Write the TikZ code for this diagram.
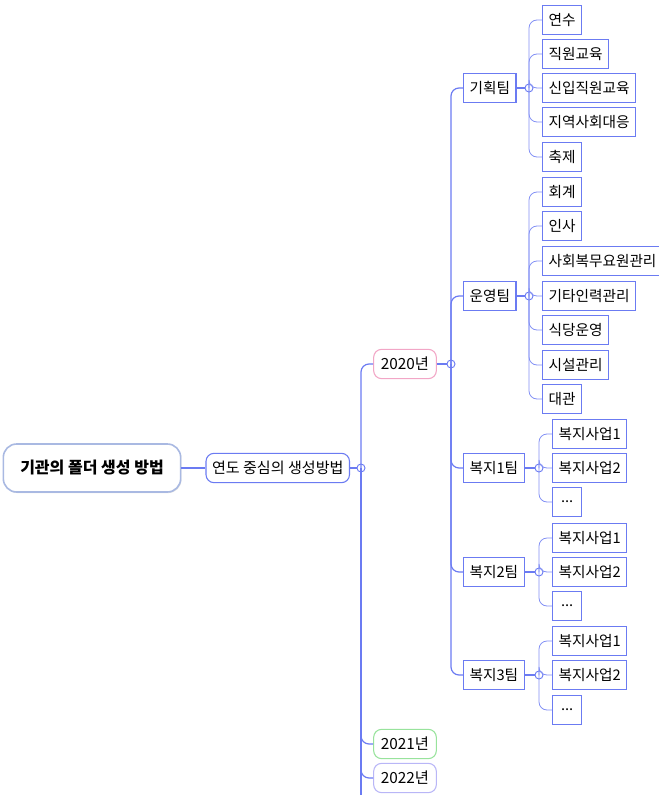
\documentclass[tikz,border=0pt]{standalone}
\usepackage{fontspec}
\setmainfont{Noto Sans CJK KR}
\usepackage{xcolor}
\usetikzlibrary{positioning,shadows}

\definecolor{mapblue}{HTML}{6B7BF2}
\definecolor{rootedge}{HTML}{A9B9E2}
\definecolor{pinkedge}{HTML}{F2A6C6}
\definecolor{greenedge}{HTML}{98E39C}
\definecolor{lilacedge}{HTML}{B9B6F7}

\begin{document}
\begin{tikzpicture}[
  x=0.75pt, y=-0.75pt,
  root/.style={draw=rootedge, line width=1.2pt, rounded corners=10pt, fill=white, minimum width=133pt, minimum height=36pt, font=\bfseries\fontsize{12}{14}\selectfont, drop shadow={shadow xshift=0.6pt, shadow yshift=-0.8pt, opacity=0.25, fill=gray}},
  topic/.style={draw=mapblue, line width=0.8pt, rounded corners=6pt, fill=white, minimum height=22pt, inner xsep=4.5pt, font=\fontsize{11.3}{13}\selectfont},
  year/.style={draw, line width=0.8pt, rounded corners=6pt, fill=white, minimum width=47pt, minimum height=22pt, inner xsep=4.5pt, font=\fontsize{11.5}{13}\selectfont},
  team/.style={draw=mapblue, line width=0.8pt, fill=white, minimum height=22pt, inner xsep=4.5pt, font=\fontsize{11}{13}\selectfont},
  leaf/.style={team, anchor=west},
  hub/.style={circle, draw=mapblue, line width=0.7pt, inner sep=0pt, minimum size=6pt},
  link/.style={draw=mapblue, line width=0.9pt, rounded corners=6pt},
  twig/.style={draw=mapblue!85, line width=0.6pt, rounded corners=6pt}
]
\useasboundingbox (0,0) rectangle (658,795);

% root and method
\node[root] (root) at (92,468) {기관의 폴더 생성 방법};
\node[topic, right=18pt of root] (method) {연도 중심의 생성방법};
\node[hub] (hub0) at (361,468) {};
\coordinate (trunkend) at (361,795);

% years
\node[year, draw=pinkedge] (y2020) at (405,364) {2020년};
\node[year, draw=greenedge] (y2021) at (405,744) {2021년};
\node[year, draw=lilacedge] (y2022) at (405,778) {2022년};
\node[hub] (hub1) at (451,364) {};

% teams
\node[team, anchor=west] (plan) at (463,88) {기획팀};
\node[team, anchor=west] (ops) at (463,296) {운영팀};
\node[team, anchor=west] (w1) at (463,468) {복지1팀};
\node[team, anchor=west] (w2) at (463,572) {복지2팀};
\node[team, anchor=west] (w3) at (463,675) {복지3팀};

\node[hub] (hplan) at (529,88) {};
\node[hub] (hops) at (529,296) {};
\node[hub] (hw1) at (539,468) {};
\node[hub] (hw2) at (539,572) {};
\node[hub] (hw3) at (539,675) {};

% leaves
\node[leaf] (p1) at (542,20) {연수};
\node[leaf] (p2) at (542,54) {직원교육};
\node[leaf] (p3) at (542,88) {신입직원교육};
\node[leaf] (p4) at (542,122) {지역사회대응};
\node[leaf] (p5) at (542,157) {축제};

\node[leaf] (o1) at (542,192) {회계};
\node[leaf] (o2) at (542,226) {인사};
\node[leaf] (o3) at (542,261) {사회복무요원관리};
\node[leaf] (o4) at (542,296) {기타인력관리};
\node[leaf] (o5) at (542,330) {식당운영};
\node[leaf] (o6) at (542,365) {시설관리};
\node[leaf] (o7) at (542,399) {대관};

\node[leaf] (wa1) at (552,434) {복지사업1};
\node[leaf] (wa2) at (552,468) {복지사업2};
\node[leaf, minimum width=22pt] (wa3) at (552,502) {...};
\node[leaf] (wb1) at (552,538) {복지사업1};
\node[leaf] (wb2) at (552,572) {복지사업2};
\node[leaf, minimum width=22pt] (wb3) at (552,606) {...};
\node[leaf] (wc1) at (552,641) {복지사업1};
\node[leaf] (wc2) at (552,675) {복지사업2};
\node[leaf, minimum width=22pt] (wc3) at (552,710) {...};

% connectors
\draw[link] (root) -- (method);
\draw[link] (method) -- (hub0);
\draw[link] (hub0.center) -- (trunkend);
\foreach \y in {y2020,y2021,y2022}
  \draw[link] (hub0.center) |- (\y.west);
\draw[link] (y2020) -- (hub1);
\foreach \t in {plan,ops,w1,w2,w3}
  \draw[link] (hub1.center) |- (\t.west);

\draw[link] (plan) -- (hplan);
\draw[link] (ops) -- (hops);
\draw[link] (w1) -- (hw1);
\draw[link] (w2) -- (hw2);
\draw[link] (w3) -- (hw3);

\foreach \l in {p1,p2,p3,p4,p5}
  \draw[twig] (hplan.center) |- (\l.west);
\foreach \l in {o1,o2,o3,o4,o5,o6,o7}
  \draw[twig] (hops.center) |- (\l.west);
\foreach \l in {wa1,wa2,wa3}
  \draw[twig] (hw1.center) |- (\l.west);
\foreach \l in {wb1,wb2,wb3}
  \draw[twig] (hw2.center) |- (\l.west);
\foreach \l in {wc1,wc2,wc3}
  \draw[twig] (hw3.center) |- (\l.west);

\end{tikzpicture}
\end{document}
